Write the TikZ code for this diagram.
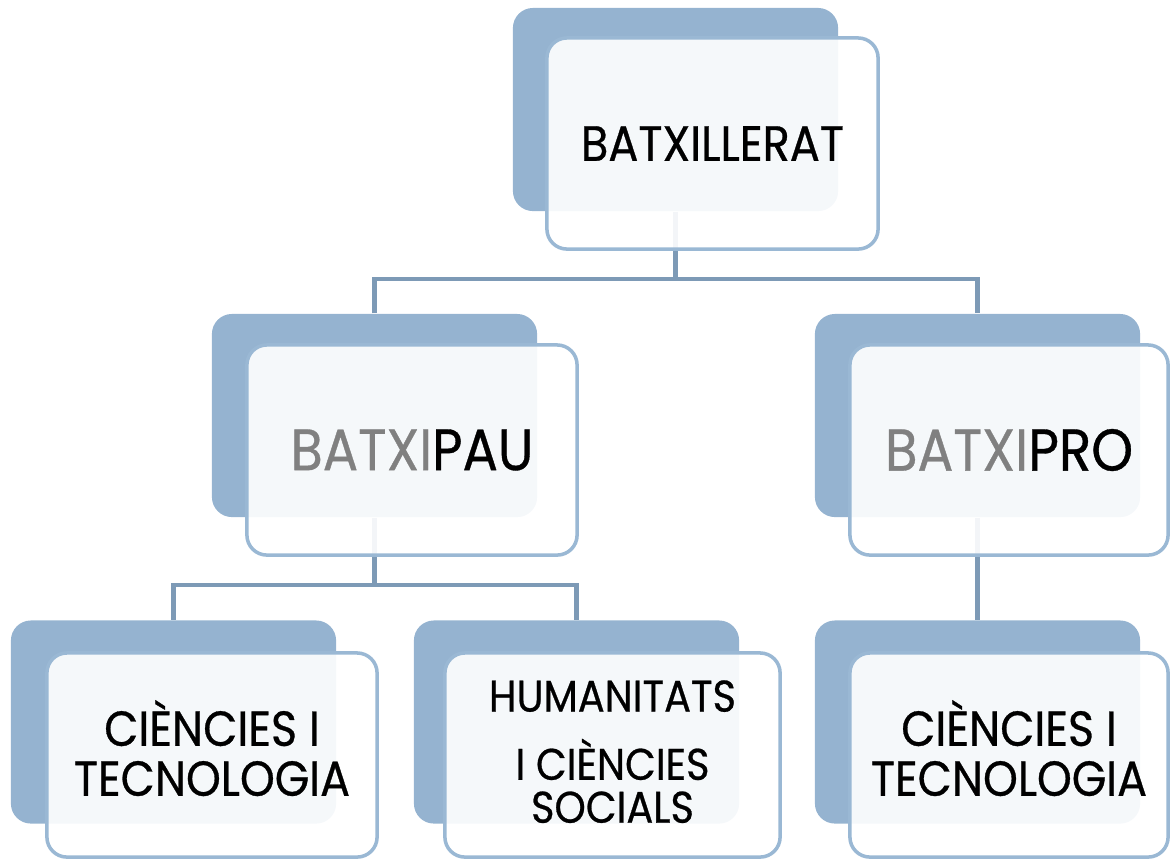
\documentclass[tikz,border=0pt]{standalone}
\usepackage{fontspec}
\setmainfont[FakeStretch=0.9, FakeBold=0.6]{Poppins}
\usepackage{xcolor}
\usetikzlibrary{backgrounds}
\definecolor{darkblue}{RGB}{149,179,208}
\definecolor{edgeblue}{RGB}{154,184,212}
\definecolor{linkblue}{RGB}{125,154,182}
\definecolor{textgray}{RGB}{128,128,128}

\begin{document}
\begin{tikzpicture}[x=0.01cm, y=-0.01cm,
    back/.style={rectangle, rounded corners=0.2cm, fill=darkblue, minimum width=3.25cm, minimum height=2.03cm, inner sep=0pt},
    front/.style={rectangle, rounded corners=0.2cm, draw=edgeblue, line width=1pt, fill=white, fill opacity=0.91, text opacity=1, inner sep=0pt, align=center},
    link/.style={draw=linkblue, line width=1.2pt}]
    \useasboundingbox (0,0) rectangle (1170,859);

    % Back boxes
    \node[back] (batxb) at (675.5,109.5) {};
    \node[back] (paub) at (374.5,415.5) {};
    \node[back] (prob) at (977.5,415.5) {};
    \node[back] (ctab) at (173.5,722) {};
    \node[back] (hcsb) at (576.5,722) {};
    \node[back] (ctbb) at (977.5,722) {};

    % Front boxes
    \node[front, minimum width=3.31cm, minimum height=2.11cm, font=\fontsize{14.1}{17}\selectfont] (batx) at (712.5,143.5) {BATXILLERAT};
    \node[front, minimum width=3.30cm, minimum height=2.10cm, font=\fontsize{16.6}{19}\selectfont] (pau) at (412,450) {{\color{textgray}BATXI}PAU};
    \node[front, minimum width=3.18cm, minimum height=2.10cm, font=\fontsize{16.8}{19}\selectfont] (pro) at (1009,450) {{\color{textgray}BATXI}PRO};
    \node[front, minimum width=3.30cm, minimum height=2.04cm, font=\fontsize{14}{14.2}\selectfont, text depth=4pt] (cta) at (212,755) {CIÈNCIES I\\TECNOLOGIA};
    \node[front, minimum width=3.35cm, minimum height=2.04cm, font=\fontsize{12.6}{12.2}\selectfont, text depth=2pt] (hcs) at (612.5,755) {HUMANITATS\\[7.2pt] I CIÈNCIES\\SOCIALS};
    \node[front, minimum width=3.18cm, minimum height=2.04cm, font=\fontsize{14}{14.2}\selectfont, text depth=4pt] (ctb) at (1009,755) {CIÈNCIES I\\TECNOLOGIA};

    % Draw links
    \coordinate (j1) at (675.5,279);
    \coordinate (j2) at (374.5,585);
    \begin{scope}[on background layer]
        \draw[link] (batxb.south) -- (j1);
        \draw[link] (paub.north) |- (j1) -| (prob.north);
        \draw[link] (paub.south) -- (j2);
        \draw[link] (ctab.north) |- (j2) -| (hcsb.north);
        \draw[link] (prob.south) -- (ctbb.north);
    \end{scope}
\end{tikzpicture}
\end{document}
